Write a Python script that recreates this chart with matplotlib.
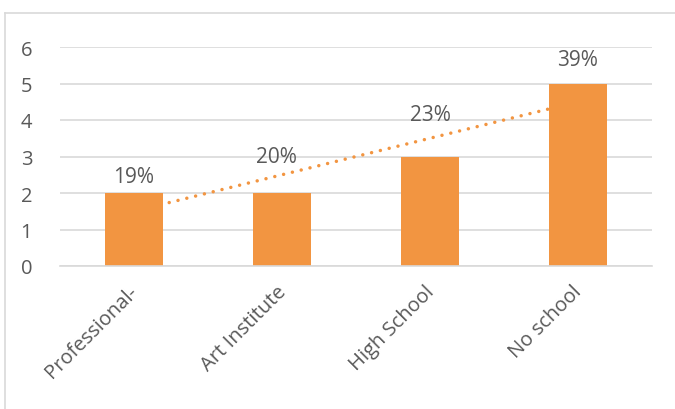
import matplotlib.pyplot as plt
import numpy as np
from matplotlib.lines import Line2D
import matplotlib.transforms as mtransforms

# Chart data
categories = ['Professional-', 'Art Institute', 'High School', 'No school']
counts = [2, 2, 3, 5]
pct_labels = ['19%', '20%', '23%', '39%']

# label placement above each bar (data units, labels were moved by hand)
label_lift = [0.30, 0.85, 1.00, 0.51]
label_shift = [0.0, -0.04, 0.0, 0.0]

bar_color = '#F29541'
text_color = '#595959'
grid_color = '#D9D9D9'

plt.rcParams['font.family'] = ['Open Sans', 'DejaVu Sans']

fig = plt.figure(figsize=(6.75, 4.10), dpi=100)
ax = fig.add_axes([60 / 675, 1 - 267 / 410, 592 / 675, 219 / 410])

x = np.arange(len(categories))

# Linear trendline (drawn behind the bars)
slope, intercept = np.polyfit(x, counts, 1)
ax.plot(x, slope * x + intercept, linestyle=(0, (0.01, 2.6)), color=bar_color,
        linewidth=2.5, dash_capstyle='round', zorder=1)

bars = ax.bar(x, counts, width=0.39, color=bar_color, zorder=2)

for xi, c, lab, lift, sh in zip(x, counts, pct_labels, label_lift, label_shift):
    ax.text(xi + sh, c + lift, lab, ha='center', va='baseline', fontsize=15,
            color=text_color)

ax.set_xlim(-0.5, 3.5)
ax.set_ylim(0, 6)
ax.set_yticks(range(7))
ax.yaxis.grid(True, color=grid_color, linewidth=1.2, zorder=0)
ax.set_axisbelow(True)
for s in ['top', 'right', 'left']:
    ax.spines[s].set_visible(False)
ax.spines['bottom'].set_color(grid_color)
ax.spines['bottom'].set_linewidth(1.2)
ax.tick_params(axis='both', length=0, colors=text_color, labelsize=14.5)
ax.tick_params(axis='y', pad=20)

ax.set_xticks(x)
ax.set_xticklabels(categories, rotation=45, ha='right', va='top',
                   rotation_mode='anchor')
ax.tick_params(axis='x', pad=11)
shift = mtransforms.ScaledTranslation(-6 / 100, 0, fig.dpi_scale_trans)
for lbl in ax.get_xticklabels():
    lbl.set_transform(lbl.get_transform() + shift)

# Outer chart border (top and left visible)
fig.add_artist(Line2D([5.5 / 675, 5.5 / 675], [0, 1 - 13.5 / 410],
                      color=grid_color, linewidth=1.2))
fig.add_artist(Line2D([5.5 / 675, 1], [1 - 13.5 / 410, 1 - 13.5 / 410],
                      color=grid_color, linewidth=1.2))

fig.savefig('out.png', dpi=100, facecolor='white')
